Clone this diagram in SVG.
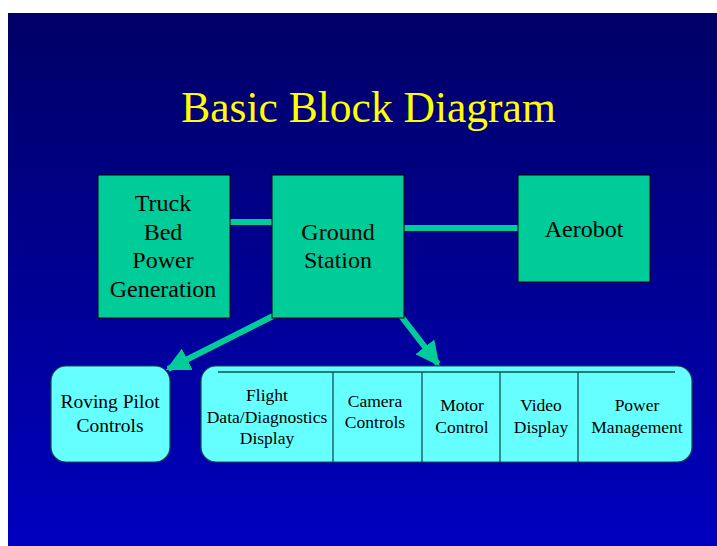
<svg xmlns="http://www.w3.org/2000/svg" width="717" height="546" viewBox="0 0 717 546">
<defs>
<linearGradient id="bg" x1="0" y1="0" x2="0" y2="1">
<stop offset="0" stop-color="#000066"/>
<stop offset="1" stop-color="#0000BF"/>
</linearGradient>
<marker id="ah" viewBox="0 0 10 10" refX="9" refY="5" markerWidth="4" markerHeight="4" markerUnits="strokeWidth" orient="auto">
<path d="M0,0 L10,5 L0,10 Z" fill="#00CC99"/>
</marker>
<style>
text{font-family:"Liberation Serif","Times New Roman","DejaVu Serif",serif}
.t{fill:#000;text-anchor:middle}
.g{fill:#00CC99;stroke:#000;stroke-width:1}
.c{fill:#66FFFF;stroke:#1A4A4A;stroke-width:1.2}
.d{stroke:#1A5050;stroke-width:1.3}
.l{stroke:#00CC99;stroke-width:6;fill:none}
</style>
</defs>
<rect x="0" y="0" width="717" height="546" fill="#fff"/>
<rect x="8" y="13" width="709" height="533" fill="url(#bg)"/>
<text x="368.5" y="122" font-size="43.5" fill="#FFFF00" text-anchor="middle">Basic Block Diagram</text>
<g id="connectors">
<line class="l" x1="230" y1="222" x2="272" y2="222"/>
<line class="l" x1="404" y1="228" x2="518" y2="228"/>
<line class="l" x1="273" y1="316" x2="168" y2="369" marker-end="url(#ah)"/>
<line class="l" x1="401" y1="316" x2="438" y2="364" marker-end="url(#ah)"/>
</g>
<g id="truck">
<rect class="g" x="98" y="175" width="132" height="143"/>
<text class="t" font-size="24" x="163" y="211">Truck</text>
<text class="t" font-size="24" x="163" y="240">Bed</text>
<text class="t" font-size="24" x="163" y="268">Power</text>
<text class="t" font-size="24" x="163" y="297">Generation</text>
</g>
<g id="ground">
<rect class="g" x="272" y="175" width="132" height="143"/>
<text class="t" font-size="24" x="338" y="240">Ground</text>
<text class="t" font-size="24" x="338" y="268">Station</text>
</g>
<g id="aerobot">
<rect class="g" x="518" y="175" width="132" height="107"/>
<text class="t" font-size="24" x="584" y="237">Aerobot</text>
</g>
<g id="roving">
<rect class="c" x="51" y="366" width="119" height="96" rx="15"/>
<text class="t" font-size="19.5" x="110" y="408">Roving Pilot</text>
<text class="t" font-size="19.5" x="110" y="432">Controls</text>
</g>
<g id="panel">
<rect class="c" x="201" y="366" width="491" height="96" rx="15"/>
<line class="d" x1="218" y1="372" x2="675" y2="372"/>
<line class="d" x1="333" y1="372" x2="333" y2="462"/>
<line class="d" x1="422" y1="372" x2="422" y2="462"/>
<line class="d" x1="500" y1="372" x2="500" y2="462"/>
<line class="d" x1="578" y1="372" x2="578" y2="462"/>
<text class="t" font-size="17.5" x="267" y="401">Flight</text>
<text class="t" font-size="17.5" x="267" y="423">Data/Diagnostics</text>
<text class="t" font-size="17.5" x="267" y="444">Display</text>
<text class="t" font-size="17.5" x="375" y="407">Camera</text>
<text class="t" font-size="17.5" x="375" y="428">Controls</text>
<text class="t" font-size="17.5" x="462" y="411">Motor</text>
<text class="t" font-size="17.5" x="462" y="433">Control</text>
<text class="t" font-size="17.5" x="541" y="411">Video</text>
<text class="t" font-size="17.5" x="541" y="433">Display</text>
<text class="t" font-size="17.5" x="637" y="411">Power</text>
<text class="t" font-size="17.5" x="637" y="433">Management</text>
</g>
</svg>
